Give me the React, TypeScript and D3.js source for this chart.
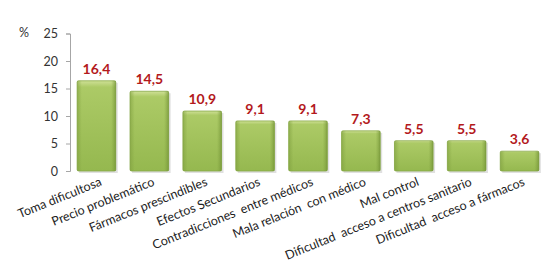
import * as d3 from 'd3';
import { useLayoutEffect, useRef } from 'react';

const categories = [
  'Toma dificultosa',
  'Precio problemático',
  'Fármacos prescindibles',
  'Efectos Secundarios',
  'Contradicciones  entre médicos',
  'Mala relación  con médico',
  'Mal control',
  'Dificultad  acceso a centros sanitario',
  'Dificultad  acceso a fármacos',
];
const values = [16.4, 14.5, 10.9, 9.1, 9.1, 7.3, 5.5, 5.5, 3.6];
const yTicks = [0, 5, 10, 15, 20, 25];

const fmt = (v: number) => v.toFixed(1).replace('.', ',');

export default function App() {
  const container = useRef<HTMLDivElement>(null);

  useLayoutEffect(() => {
    if (!container.current) return;
    const parent = d3.select(container.current);
    parent.select('svg').remove();

    const svg = parent
      .append('svg')
      .attr('width', 560)
      .attr('height', 280)
      .style('display', 'block')
      .style('font-family', 'Lato, "Open Sans", sans-serif');

    svg.append('rect').attr('width', 560).attr('height', 280).attr('fill', '#fff');

    const defs = svg.append('defs');
    const grad = defs
      .append('linearGradient')
      .attr('id', 'barGrad')
      .attr('x1', 0)
      .attr('x2', 0)
      .attr('y1', 0)
      .attr('y2', 1);
    grad.append('stop').attr('offset', '0%').attr('stop-color', '#cfe096');
    grad.append('stop').attr('offset', '7%').attr('stop-color', '#acca66');
    grad.append('stop').attr('offset', '100%').attr('stop-color', '#95b84f');
    const side = defs
      .append('linearGradient')
      .attr('id', 'sideGrad')
      .attr('x1', 0)
      .attr('x2', 1);
    side.append('stop').attr('offset', '0%').attr('stop-color', '#7f9f3f').attr('stop-opacity', 0.6);
    side.append('stop').attr('offset', '12%').attr('stop-color', '#7f9f3f').attr('stop-opacity', 0);
    side.append('stop').attr('offset', '88%').attr('stop-color', '#7f9f3f').attr('stop-opacity', 0);
    side.append('stop').attr('offset', '100%').attr('stop-color', '#6f8f33').attr('stop-opacity', 0.7);

    const x = d3.scaleBand().domain(categories).range([70, 546]).paddingInner(0.27).paddingOuter(0.135);
    const y = d3.scaleLinear().domain([0, 25]).range([171, 33.5]);

    // y axis
    const yAxis = d3.axisLeft(y).tickValues(yTicks).tickSize(4).tickPadding(8);
    const ga = svg.append('g').attr('transform', 'translate(70,0)').call(yAxis);
    ga.selectAll('path, line').attr('stroke', '#a6a6a6');
    ga.selectAll('text').attr('fill', '#333').style('font-size', '12.5px').style('font-family', 'Lato, sans-serif');

    svg
      .append('text')
      .text('%')
      .attr('x', 24)
      .attr('y', 37)
      .attr('text-anchor', 'middle')
      .attr('fill', '#333')
      .style('font-size', '12.5px');

    // shadows
    svg
      .selectAll('rect.shadow')
      .data(values)
      .join('rect')
      .attr('class', 'shadow')
      .attr('x', (d, i) => (x(categories[i]) ?? 0) + 2)
      .attr('y', (d) => y(d) + 2)
      .attr('width', x.bandwidth())
      .attr('height', (d) => y(0) - y(d))
      .attr('fill', '#000')
      .attr('opacity', 0.12);

    // bars
    svg
      .selectAll('rect.bar')
      .data(values)
      .join('rect')
      .attr('class', 'bar')
      .attr('x', (d, i) => x(categories[i]) ?? 0)
      .attr('y', (d) => y(d))
      .attr('width', x.bandwidth())
      .attr('height', (d) => y(0) - y(d))
      .attr('rx', 1.5)
      .attr('fill', 'url(#barGrad)')
      .attr('stroke', '#86a846')
      .attr('stroke-width', 0.8);
    svg
      .selectAll('rect.side')
      .data(values)
      .join('rect')
      .attr('class', 'side')
      .attr('x', (d, i) => x(categories[i]) ?? 0)
      .attr('y', (d) => y(d))
      .attr('width', x.bandwidth())
      .attr('height', (d) => y(0) - y(d))
      .attr('fill', 'url(#sideGrad)');

    // value labels
    svg
      .selectAll('text.val')
      .data(values)
      .join('text')
      .attr('class', 'val')
      .text((d) => fmt(d))
      .attr('x', (d, i) => (x(categories[i]) ?? 0) + x.bandwidth() / 2)
      .attr('y', (d) => y(d) - 7)
      .attr('text-anchor', 'middle')
      .attr('fill', '#b3191c')
      .style('font-size', '14px')
      .style('font-weight', 'bold');

    // category labels
    svg
      .selectAll('text.cat')
      .data(categories)
      .join('text')
      .attr('class', 'cat')
      .text((d) => d)
      .attr('text-anchor', 'end')
      .attr(
        'transform',
        (d) => `translate(${(x(d) ?? 0) + x.bandwidth() / 2 + 6},${185}) rotate(-22)`,
      )
      .attr('fill', '#222')
      .style('font-size', '12.5px')
      .style('white-space', 'pre');
  }, []);

  return <div ref={container} style={{ width: 560, height: 280, margin: -8 }}></div>;
}
